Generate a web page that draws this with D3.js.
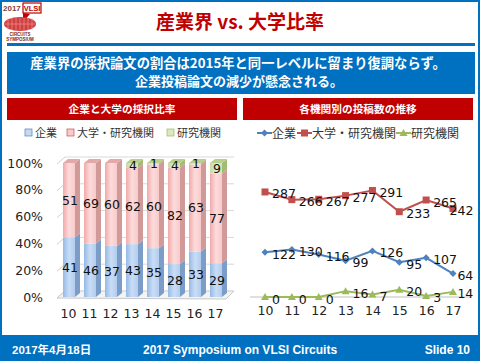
<!DOCTYPE html>
<html><head><meta charset="utf-8">
<script src="https://cdn.jsdelivr.net/npm/d3@7"></script>
<style>body{margin:0;background:#fff}svg{display:block}</style></head>
<body>
<svg id="c" width="480" height="361"></svg>
<script>
const years=["10","11","12","13","14","15","16","17"];
const ratioCompany=[41,46,37,43,35,28,33,29];
const ratioUniv=[51,69,60,62,60,82,63,77];
const ratioInst=[0,0,0,4,1,4,1,9];
const subCompany=[122,130,116,99,126,95,107,64];
const subUniv=[287,266,267,277,291,233,265,242];
const subInst=[0,0,0,16,7,20,3,14];
const pctTicks=[0,20,40,60,80,100];
const seriesNames=["企業","大学・研究機関","研究機関"];

const JP='"Noto Sans CJK JP","Noto Sans",sans-serif';
const NUM='"DejaVu Sans",Verdana,sans-serif';
const svg=d3.select("#c");
const BLUE="#0070c0", RED="#c00000";

// frame
svg.append("rect").attr("x",1).attr("y",1).attr("width",478).attr("height",359).attr("fill","none").attr("stroke",BLUE).attr("stroke-width",2);

// logo
const lg=svg.append("g");
lg.append("text").attr("x",3).attr("y",11).text("2017").attr("font-family","Liberation Sans,Arial").attr("font-weight","bold").attr("font-size",8).attr("fill","#7f3f3f");
lg.append("rect").attr("x",23).attr("y",3).attr("width",18).attr("height",10).attr("fill","#fff").attr("stroke",RED).attr("stroke-width",1.2);
lg.append("text").attr("x",32).attr("y",11).attr("text-anchor","middle").text("VLSI").attr("font-family","Liberation Sans,Arial").attr("font-weight","bold").attr("font-size",7.5).attr("fill",RED);
lg.append("path").attr("d","M23,13 L23,22 L30,14 Z").attr("fill",RED);
lg.append("ellipse").attr("cx",20).attr("cy",24).attr("rx",16).attr("ry",7).attr("fill","#d04040");
for(let i=-3;i<=3;i++){lg.append("line").attr("x1",20+i*4).attr("x2",20+i*4).attr("y1",18).attr("y2",30).attr("stroke","#f0a0a0").attr("stroke-width",0.6);}
lg.append("line").attr("x1",5).attr("x2",35).attr("y1",24).attr("y2",24).attr("stroke","#f0a0a0").attr("stroke-width",0.6);
lg.append("text").attr("x",20).attr("y",36).attr("text-anchor","middle").text("CIRCUITS").attr("font-family","Liberation Sans,Arial").attr("font-weight","bold").attr("font-size",4.5).attr("fill","#7f1f1f");
lg.append("text").attr("x",20).attr("y",41).attr("text-anchor","middle").text("SYMPOSIUM").attr("font-family","Liberation Sans,Arial").attr("font-weight","bold").attr("font-size",4.5).attr("fill","#7f1f1f");

// title
svg.append("text").attr("x",240).attr("y",29).attr("text-anchor","middle").attr("font-family",JP).attr("font-weight","bold").attr("font-size",19).attr("fill",RED).text("産業界 vs. 大学比率");
svg.append("rect").attr("x",7).attr("y",43).attr("width",468).attr("height",3).attr("fill",BLUE);

// message box
svg.append("rect").attr("x",7).attr("y",52).attr("width",468).attr("height",42).attr("fill",BLUE);
svg.append("text").attr("x",238).attr("y",67.5).attr("text-anchor","middle").attr("font-family",JP).attr("font-weight","bold").attr("font-size",13.3).attr("fill","#fff").text("産業界の採択論文の割合は2015年と同一レベルに留まり復調ならず。");
svg.append("text").attr("x",239).attr("y",85.5).attr("text-anchor","middle").attr("font-family",JP).attr("font-weight","bold").attr("font-size",13).attr("fill","#fff").text("企業投稿論文の減少が懸念される。");

// panel headers
function header(x,w,t){
  svg.append("rect").attr("x",x).attr("y",98).attr("width",w).attr("height",22).attr("fill",RED);
  svg.append("text").attr("x",x+w/2).attr("y",113).attr("text-anchor","middle").attr("font-family",JP).attr("font-weight","bold").attr("font-size",10.7).attr("fill","#fff").text(t);
}
header(7,230,"企業と大学の採択比率");
header(243,230,"各機関別の投稿数の推移");

// footer
svg.append("rect").attr("x",0).attr("y",335).attr("width",480).attr("height",26).attr("fill",BLUE);
svg.append("text").attr("x",12).attr("y",354).attr("font-family","Liberation Sans,Arial,"+JP).attr("font-weight","bold").attr("font-size",11.5).attr("fill","#fff").text("2017年4月18日");
svg.append("text").attr("x",143).attr("y",354).attr("font-family","Liberation Sans,Arial").attr("font-weight","bold").attr("font-size",12).attr("fill","#fff").text("2017 Symposium on VLSI Circuits");
svg.append("text").attr("x",470).attr("y",354).attr("text-anchor","end").attr("font-family","Liberation Sans,Arial").attr("font-weight","bold").attr("font-size",12).attr("fill","#fff").text("Slide 10");

// ===== Left: 3D stacked 100% bars =====
const defs=svg.append("defs");
function grad(id,stops){
  const g=defs.append("linearGradient").attr("id",id).attr("x1","0").attr("x2","1").attr("y1","0").attr("y2","0");
  stops.forEach((c,i)=>g.append("stop").attr("offset",i/(stops.length-1)).attr("stop-color",c));
}
grad("gB",["#95b9e6","#c9ddf6","#b3cdef"]);
grad("gP",["#f1a9a9","#fcdcdc","#f8caca"]);
grad("gG",["#c6d9a0","#e2ecd0","#d3e2b6"]);
const cols=[{f:"url(#gB)",s:"#7d9dc9",t:"#a9c5ea",leg:"#c5d9f1",bd:"#4f81bd"},
            {f:"url(#gP)",s:"#d29999",t:"#e3a9a9",leg:"#f9caca",bd:"#c0504d"},
            {f:"url(#gG)",s:"#a3bb72",t:"#b8cf8c",leg:"#dbe8c3",bd:"#9bbb59"}];

const xL=d3.scalePoint().domain(years).range([69,216]);
const yL=d3.scaleLinear().domain([0,100]).range([297,163]);
const DX=8,DY=-7, bw=12, bdx=5, bdy=-4;

// walls & grid
const gl=svg.append("g");
pctTicks.forEach(t=>{
  const y=yL(t);
  gl.append("line").attr("x1",57).attr("y1",y+1).attr("x2",57+DX).attr("y2",y+1+DY).attr("stroke","#d0d0d0");
  if(t>0) gl.append("line").attr("x1",57+DX).attr("y1",y+1+DY).attr("x2",234).attr("y2",y+1+DY).attr("stroke","#d9d9d9");
});
gl.append("path").attr("d",`M57,${yL(0)+1} L${57+DX},${yL(0)+1+DY} L234,${yL(0)+1+DY} L226,${yL(0)+2} Z`).attr("fill","#f4f4f4").attr("stroke","#c8c8c8");

// y axis
const ya=svg.append("g").attr("transform","translate(49,0)").call(d3.axisLeft(yL).tickValues(pctTicks).tickSize(0).tickPadding(6).tickFormat(d=>d+"%"));
ya.select(".domain").remove();
ya.selectAll("text").attr("font-family",NUM).attr("font-size",12.5).attr("fill","#222");

// x axis
const xa=svg.append("g").attr("transform","translate(0,306)").call(d3.axisBottom(xL).tickSize(0).tickPadding(3));
xa.select(".domain").remove();
xa.selectAll("text").attr("font-family",NUM).attr("font-size",12.5).attr("fill","#222").attr("dx",-1);

const stackData=years.map((y,i)=>{const tot=ratioCompany[i]+ratioUniv[i]+ratioInst[i];return {y,vals:[ratioCompany[i],ratioUniv[i],ratioInst[i]],tot};});
const bars=svg.append("g");
stackData.forEach(d=>{
  let acc=0;
  const cx=xL(d.y), x0=cx-bw/2, x1=cx+bw/2;
  const segs=d.vals.map((v,k)=>{const a=acc;acc+=v;return {k,v,p0:a/d.tot*100,p1:acc/d.tot*100};}).filter(s=>s.v>0);
  segs.forEach((s,idx)=>{
    const yt=yL(s.p1), yb=yL(s.p0), c=cols[s.k];
    bars.append("path").attr("d",`M${x1},${yb} L${x1+bdx},${yb+bdy} L${x1+bdx},${yt+bdy} L${x1},${yt} Z`).attr("fill",c.s);
    bars.append("rect").attr("x",x0).attr("y",yt).attr("width",bw).attr("height",yb-yt).attr("fill",c.f);
    if(idx===segs.length-1){
      bars.append("path").attr("d",`M${x0},${yt} L${x0+bdx},${yt+bdy} L${x1+bdx},${yt+bdy} L${x1},${yt} Z`).attr("fill",c.t);
    }
  });
  segs.forEach(s=>{
    const ym=(yL(s.p1)+yL(s.p0))/2;
    bars.append("text").attr("x",cx+1).attr("y",ym).attr("dy","0.36em").attr("text-anchor","middle").attr("font-family",NUM).attr("font-size",12.5).attr("fill","#111").text(s.v);
  });
});

// left legend
const legL=[{x:25,tx:35},{x:67,tx:77},{x:167,tx:177}];
seriesNames.forEach((n,k)=>{
  svg.append("rect").attr("x",legL[k].x).attr("y",129).attr("width",7).attr("height",7).attr("fill",cols[k].leg).attr("stroke",cols[k].bd).attr("stroke-width",0.7);
  svg.append("text").attr("x",legL[k].tx).attr("y",137).attr("font-family",JP).attr("font-size",11).attr("fill","#333").text(n);
});

// ===== Right: line chart =====
const xR=d3.scalePoint().domain(years).range([265,453]);
const yR=d3.scaleLinear().domain([0,300]).range([297,187.2]);
svg.append("line").attr("x1",250).attr("x2",470).attr("y1",yR(0)).attr("y2",yR(0)).attr("stroke","#bfbfbf").attr("stroke-width",1.2);
const xra=svg.append("g").attr("transform","translate(0,303)").call(d3.axisBottom(xR).tickSize(0).tickPadding(3));
xra.select(".domain").remove();
xra.selectAll("text").attr("font-family",NUM).attr("font-size",12.5).attr("fill","#222");

const lineSeries=[{vals:subCompany,c:"#4f81bd",m:"diamond"},{vals:subUniv,c:"#c0504d",m:"square"},{vals:subInst,c:"#9bbb59",m:"triangle"}];
const line=d3.line().x((d,i)=>xR(years[i])).y(d=>yR(d));
function marker(g,type,x,y,c){
  if(type==="diamond") g.append("path").attr("d",`M${x},${y-3.5} L${x+3.5},${y} L${x},${y+3.5} L${x-3.5},${y} Z`).attr("fill",c);
  else if(type==="square") g.append("rect").attr("x",x-3.5).attr("y",y-3.5).attr("width",7).attr("height",7).attr("fill",c);
  else g.append("path").attr("d",`M${x},${y-4} L${x+4},${y+3} L${x-4},${y+3} Z`).attr("fill",c);
}
const lr=svg.append("g");
lineSeries.forEach(s=>{
  lr.append("path").datum(s.vals).attr("d",line).attr("fill","none").attr("stroke",s.c).attr("stroke-width",2);
  s.vals.forEach((v,i)=>marker(lr,s.m,xR(years[i]),yR(v),s.c));
});
lineSeries.forEach(s=>{
  s.vals.forEach((v,i)=>{
    const tx=xR(years[i])+7, w=String(v).length*7.8;
    const x=Math.min(tx, 473-w);
    lr.append("text").attr("x",x).attr("y",yR(v)+2).attr("dy","0.36em").attr("font-family",NUM).attr("font-size",12.5).attr("fill","#111").text(v);
  });
});

// right legend
const legR=[{x:257,tx:272},{x:297,tx:312},{x:396,tx:411}];
seriesNames.forEach((n,k)=>{
  const s=lineSeries[k];
  svg.append("line").attr("x1",legR[k].x).attr("x2",legR[k].x+15).attr("y1",133).attr("y2",133).attr("stroke",s.c).attr("stroke-width",2);
  marker(svg,s.m,legR[k].x+7.5,133,s.c);
  svg.append("text").attr("x",legR[k].tx).attr("y",138).attr("font-family",JP).attr("font-size",12).attr("fill","#333").text(n);
});
</script>
</body></html>
